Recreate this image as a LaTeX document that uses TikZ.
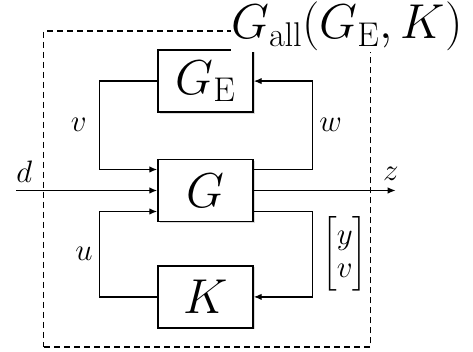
\documentclass[tikz,border=0pt]{standalone}
\usepackage{fix-cm}
\usepackage{amsmath}
\usetikzlibrary{arrows.meta,positioning,fit,shadows}

\begin{document}
\begin{tikzpicture}[
  x=1pt,y=1pt,
  node distance=46pt and 58pt,
  blk/.style={draw,line width=1.4pt,fill=white,minimum width=95pt,minimum height=62pt,font=\fontsize{49}{52}\selectfont,drop shadow={shadow xshift=1.5pt,shadow yshift=-1.5pt,opacity=0.3}},
  sig/.style={font=\fontsize{31}{33}\selectfont,inner sep=0pt},
  arrow/.style={-{Latex[length=8pt,width=6.5pt]},line width=1.4pt},
  dashframe/.style={draw,line width=1.4pt,dash pattern=on 6pt off 4pt}
]
\useasboundingbox (-205.5,-161.5) rectangle (267.5,190.5);
% blocks
\node[blk] (g) at (0,0) {$G$};
\node[blk,above=of g] (ge) {$G_{\mathrm{E}}$};
\node[blk,below=43pt of g] (k) {$K$};
% outer signals
\coordinate[left=141pt of g.west] (din);
\coordinate[right=142pt of g.east] (zout);
\node[sig,above right=8pt and 0pt of din] (dlbl) {$d$};
\node[sig,above left=10pt and -3pt of zout] (zlbl) {$z$};
% loops
\draw[arrow] (ge.west) -- ++(-58pt,0) |- node[sig,left=12pt,pos=0.25] (vlbl) {$v$} ([yshift=21pt]g.west);
\draw[arrow] ([yshift=21pt]g.east) -- ++(59pt,0) |- node[sig,right=6pt,pos=0.25] (wlbl) {$w$} (ge.east);
\draw[arrow] (k.west) -- ++(-58pt,0) |- node[sig,left=6pt,pos=0.25] (ulbl) {$u$} ([yshift=-21pt]g.west);
\draw[arrow] ([yshift=-21pt]g.east) -- ++(59pt,0) |- node[sig,right=9pt,pos=0.25] (yvlbl) {$\begin{bmatrix}y\\v\end{bmatrix}$} (k.east);
\draw[arrow] (din) -- (g.west);
\draw[arrow] (g.east) -- (zout);
% closed loop frame
\node[dashframe,fit=(ge)(k),inner xsep=115pt,inner ysep=18.5pt,xshift=1.5pt] (allbox) {};
\node[fill=white,inner sep=0.5pt,font=\fontsize{49}{52}\selectfont,xshift=-24pt,yshift=3.5pt] (alllbl) at (allbox.north east) {$G_{\mathrm{all}}(G_{\mathrm{E}},K)$};
\end{tikzpicture}
\end{document}
